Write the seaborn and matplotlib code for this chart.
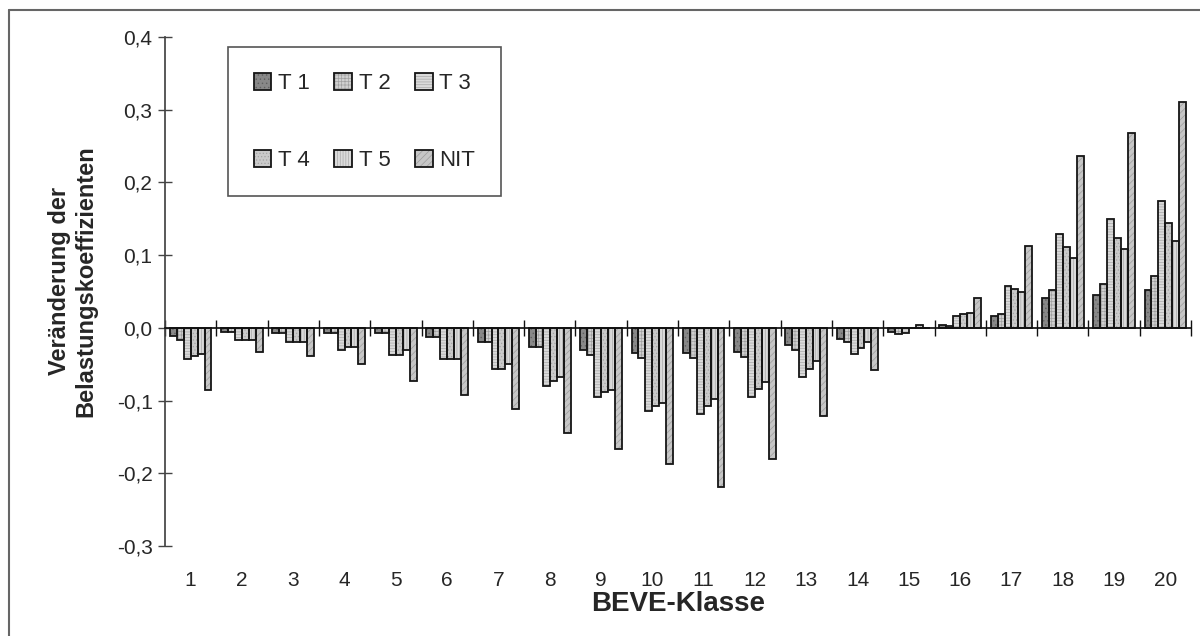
import numpy as np
import pandas as pd
import matplotlib
matplotlib.use("Agg")
import matplotlib.pyplot as plt
import matplotlib.patches as mpatches
from matplotlib.ticker import FuncFormatter
import seaborn as sns

# BEVE classes and change of the load coefficients per series
klassen = [str(i) for i in range(1, 21)]
t1 = [-0.011, -0.005, -0.007, -0.007, -0.007, -0.013, -0.020, -0.026, -0.031, -0.035,
      -0.035, -0.033, -0.024, -0.015, -0.005, 0.004, 0.017, 0.041, 0.045, 0.052]
t2 = [-0.016, -0.005, -0.007, -0.007, -0.007, -0.013, -0.020, -0.026, -0.037, -0.042,
      -0.042, -0.040, -0.031, -0.020, -0.009, 0.002, 0.019, 0.052, 0.060, 0.071]
t3 = [-0.043, -0.016, -0.020, -0.031, -0.037, -0.043, -0.057, -0.080, -0.095, -0.114,
      -0.119, -0.095, -0.067, -0.036, -0.007, 0.016, 0.058, 0.129, 0.150, 0.175]
t4 = [-0.039, -0.016, -0.020, -0.026, -0.037, -0.043, -0.057, -0.073, -0.088, -0.108,
      -0.108, -0.084, -0.057, -0.028, 0.000, 0.019, 0.054, 0.111, 0.124, 0.144]
t5 = [-0.036, -0.016, -0.020, -0.026, -0.031, -0.043, -0.050, -0.067, -0.085, -0.104,
      -0.098, -0.075, -0.046, -0.019, 0.004, 0.021, 0.049, 0.096, 0.109, 0.120]
nit = [-0.086, -0.033, -0.039, -0.050, -0.073, -0.093, -0.112, -0.144, -0.166, -0.187,
       -0.219, -0.181, -0.121, -0.058, 0.000, 0.041, 0.113, 0.236, 0.268, 0.311]

serien = ["T 1", "T 2", "T 3", "T 4", "T 5", "NIT"]
werte = [t1, t2, t3, t4, t5, nit]

df = pd.DataFrame({
    "Klasse": klassen * len(serien),
    "Serie": np.repeat(serien, len(klassen)),
    "Wert": np.concatenate(werte),
})

# grey fills with fine textures, like the old spreadsheet chart
fills = ["#888888", "#d0d0d0", "#dadada", "#cacaca", "#dadada", "#c6c6c6"]
hatches = ["....", "+++++", "------", ".....", "||||||", "/////"]
hatch_cols = ["#606060", "#a0a0a0", "#a8a8a8", "#a4a4a4", "#a8a8a8", "#9c9c9c"]
edge = "#151515"

sns.set_theme(style="white")
plt.rcParams["font.family"] = ["Liberation Sans", "DejaVu Sans"]
plt.rcParams["hatch.linewidth"] = 0.5

fig = plt.figure(figsize=(12, 6.36), dpi=100)
ax = fig.add_axes([0.1375, 0.1415, 0.855, 0.8003])

sns.barplot(data=df, x="Klasse", y="Wert", hue="Serie", order=klassen, hue_order=serien,
            palette=fills, width=0.81, legend=False, ax=ax, errorbar=None)

for cont, h, hc in zip(ax.containers, hatches, hatch_cols):
    for bar in cont:
        bar.set_hatch(h)
        bar.set_edgecolor(hc)
        bar.set_linewidth(0)
        ax.add_patch(mpatches.Rectangle(bar.get_xy(), bar.get_width(), bar.get_height(),
                                        fill=False, edgecolor=edge, linewidth=1.3))

ax.set_xlim(-0.5, len(klassen) - 0.5)
ax.set_ylim(-0.3, 0.4)
ax.set_yticks(np.arange(-0.3, 0.41, 0.1))
ax.yaxis.set_major_formatter(FuncFormatter(lambda v, p: f"{v:.1f}".replace(".", ",")))
ax.tick_params(axis="y", direction="inout", length=10, width=1, color="#444",
               labelsize=15, pad=4, left=True)

# category axis crosses at zero, separators as ticks
ax.spines["bottom"].set_position(("data", 0))
ax.spines["bottom"].set_color("#111")
ax.spines["left"].set_color("#444")
ax.spines["top"].set_visible(False)
ax.spines["right"].set_visible(False)
ax.set_xticks(np.arange(-0.5, len(klassen), 1))
ax.set_xticklabels([])
ax.tick_params(axis="x", direction="inout", length=12, width=1, color="#111", bottom=True)
ax.set_xlabel("")

# class labels sit below the plot area
sec = ax.secondary_xaxis(0)
sec.set_xticks(range(len(klassen)))
sec.set_xticklabels(klassen)
sec.tick_params(axis="x", length=0, pad=18, labelsize=15)
sec.spines["bottom"].set_visible(False)
sec.set_xlabel("BEVE-Klasse", fontsize=20, fontweight="bold", labelpad=1)

ax.set_ylabel("Veränderung der\nBelastungskoeffizienten", fontsize=17, fontweight="bold")
ax.yaxis.set_label_coords(-0.066, 0.52)

handles = [(mpatches.Patch(facecolor=f, hatch=h, edgecolor=hc, linewidth=0),
            mpatches.Patch(fill=False, edgecolor=edge, linewidth=1.3))
           for f, h, hc in zip(fills, hatches, hatch_cols)]
# legend fills column by column, so reorder to read T1 T2 T3 / T4 T5 NIT
order = [0, 3, 1, 4, 2, 5]
leg = ax.legend([handles[i] for i in order], [serien[i] for i in order], ncol=3,
                loc="upper left", bbox_to_anchor=(0.0614, 0.98), borderaxespad=0,
                fontsize=16, handlelength=0.8, handleheight=0.8, handletextpad=0.3,
                columnspacing=1.1, labelspacing=2.5, borderpad=1.15,
                fancybox=False, framealpha=1, edgecolor="#555")
leg.get_frame().set_linewidth(1.2)

# outer chart border (top and left visible)
fig.add_artist(plt.Line2D([9 / 1200, 1], [1 - 10 / 636, 1 - 10 / 636], color="#666", lw=1.5))
fig.add_artist(plt.Line2D([9 / 1200, 9 / 1200], [0, 1 - 10 / 636], color="#666", lw=1.5))

fig.savefig("out.png", dpi=100)
